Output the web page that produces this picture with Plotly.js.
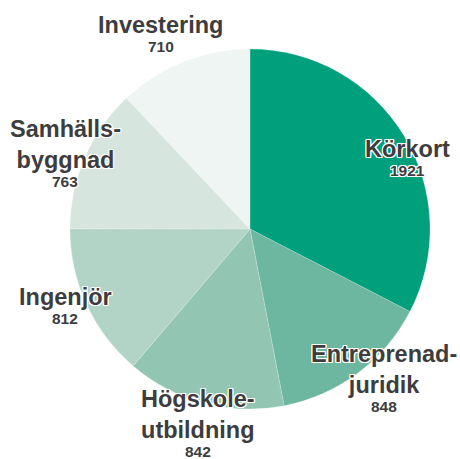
<!DOCTYPE html>
<html>
<head>
<meta charset="utf-8">
<script src="https://cdn.plot.ly/plotly-3.0.1.min.js"></script>
<style>html,body{margin:0;padding:0;background:#fff;}#chart{width:460px;height:459px;}</style>
</head>
<body>
<div id="chart"></div>
<script>
// ---- data ----
var categories = ['Körkort', 'Entreprenadjuridik', 'Högskoleutbildning', 'Ingenjör', 'Samhällsbyggnad', 'Investering'];
var labelTexts = ['Körkort', 'Entreprenad-<br>juridik', 'Högskole-<br>utbildning', 'Ingenjör', 'Samhälls-<br>byggnad', 'Investering'];
var values = [1921, 848, 842, 812, 763, 710];

// ---- style ----
var colors = ['#00a07c', '#6db7a0', '#92c6b3', '#b2d4c7', '#d6e6df', '#eef5f2'];
var labelRadius = [171, 216, 220, 202, 193, 211];      // px from pie centre
var labelAngleNudge = [8.3, -1.6, -1.0, 1.0, -6.5, -3.3]; // degrees
var textColor = '#3d3d3d';
var halo = '1px 1px 0 #fff, -1px -1px 0 #fff, 1px -1px 0 #fff, -1px 1px 0 #fff, 0 1px 0 #fff, 0 -1px 0 #fff, 1px 0 0 #fff, -1px 0 0 #fff';
var W = 460, H = 459, M = {l: 70, r: 30, t: 49, b: 50};
var pw = W - M.l - M.r, ph = H - M.t - M.b;
var cx = M.l + pw / 2, cy = M.t + ph / 2;

var total = values.reduce(function (a, b) { return a + b; }, 0);
var annotations = [];
var cum = 0;
values.forEach(function (v, i) {
  var mid = (cum + v / 2) / total;
  cum += v;
  var ang = (mid * 360 + labelAngleNudge[i]) * Math.PI / 180;
  var px = cx + labelRadius[i] * Math.sin(ang);
  var py = cy - labelRadius[i] * Math.cos(ang);
  var xp = (px - M.l) / pw, yp = 1 - (py - M.t) / ph;
  annotations.push({
    xref: 'paper', yref: 'paper', x: xp, y: yp, xanchor: 'center', yanchor: 'bottom',
    text: labelTexts[i], showarrow: false, borderpad: 0, borderwidth: 0,
    font: {family: 'Liberation Sans, Arial, sans-serif', size: 23.5, weight: 700, color: textColor, shadow: halo}
  });
  annotations.push({
    xref: 'paper', yref: 'paper', x: xp, y: yp, xanchor: 'center', yanchor: 'top',
    text: String(v), showarrow: false, borderpad: 0, borderwidth: 0,
    font: {family: 'Liberation Sans, Arial, sans-serif', size: 15.5, weight: 700, color: textColor, shadow: halo}
  });
});

var trace = {
  type: 'pie',
  labels: categories,
  values: values,
  sort: false,
  direction: 'clockwise',
  rotation: 0,
  textinfo: 'none',
  hoverinfo: 'label+value',
  marker: {colors: colors, line: {color: 'rgba(255,255,255,0.35)', width: 0.5}},
  showlegend: false
};

var layout = {
  width: W, height: H,
  margin: M,
  paper_bgcolor: '#fff',
  plot_bgcolor: '#fff',
  showlegend: false,
  annotations: annotations
};

Plotly.newPlot('chart', [trace], layout, {displayModeBar: false, staticPlot: true});
</script>
</body>
</html>
